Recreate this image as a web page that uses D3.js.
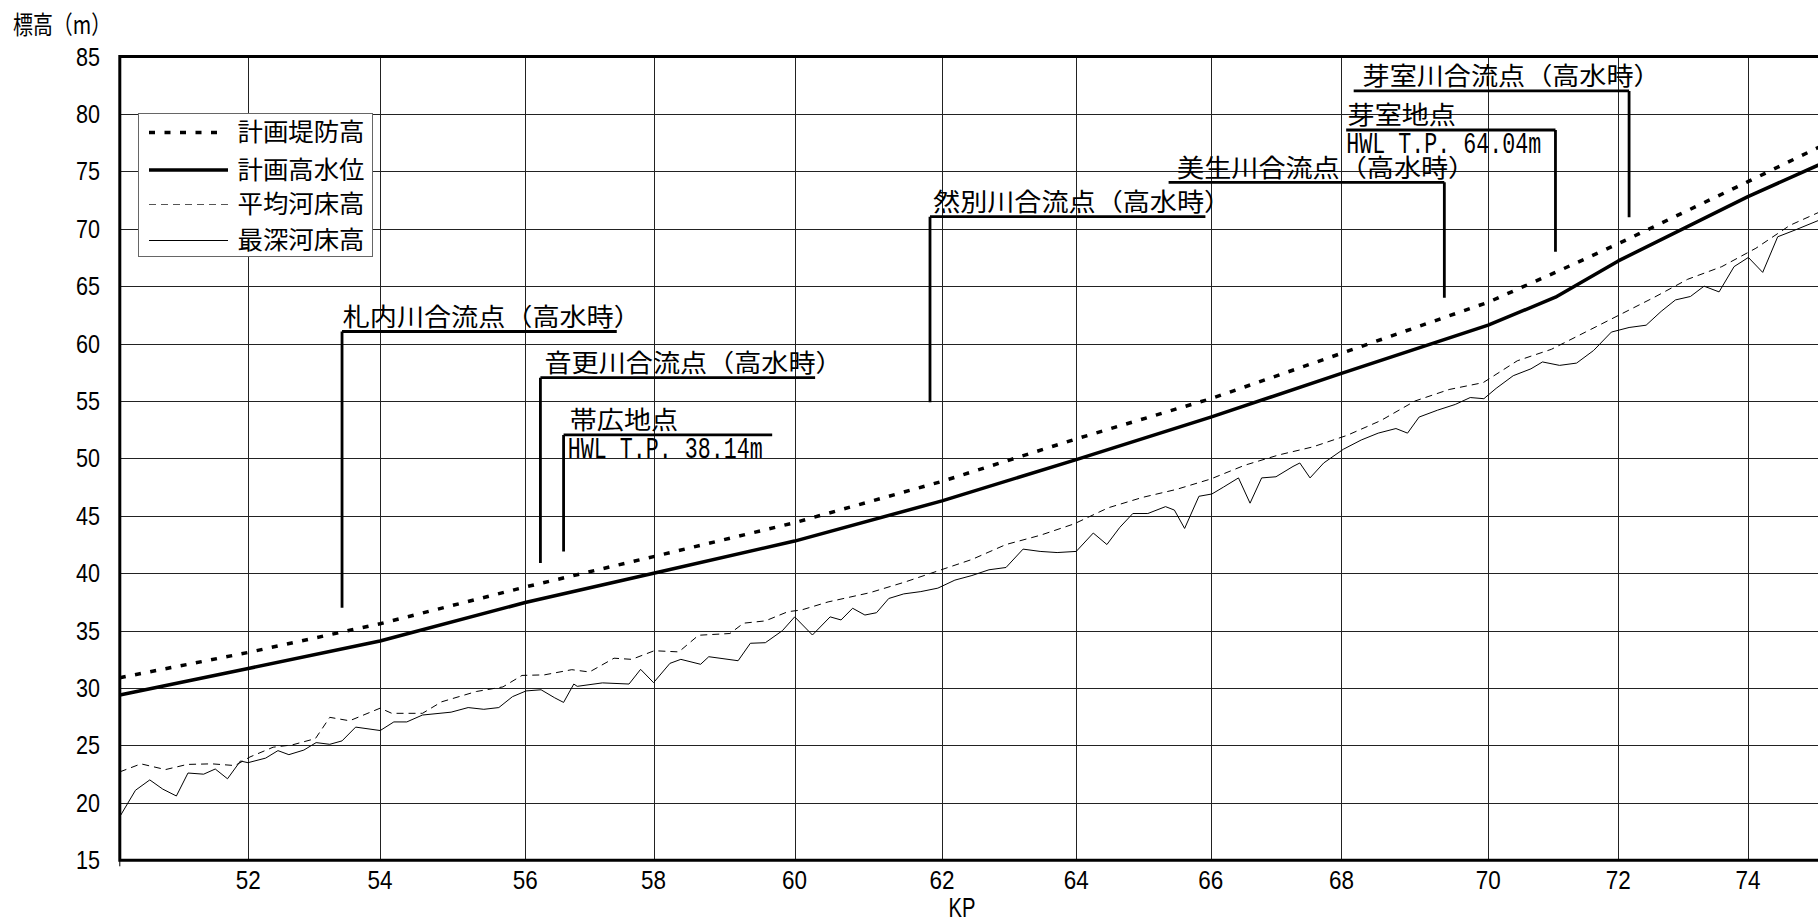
<!DOCTYPE html>
<html><head><meta charset="utf-8">
<script src="https://cdn.jsdelivr.net/npm/d3@7"></script>
<style>body{margin:0;background:#fff;overflow:hidden}</style>
</head><body>
<svg id="chart" width="1818" height="921"></svg>
<script>
// ---------- data ----------
// KP label markers and their chainage (km measured along the river from the left edge of the chart)
const kpLabels   = [52, 54, 56, 58, 60, 62, 64, 66, 68, 70, 72, 74];
const kpChainage = [1.884, 3.817, 5.947, 7.830, 9.899, 12.061, 14.030, 16.004, 17.921, 20.073, 21.982, 23.883];
const yTicks = [15, 20, 25, 30, 35, 40, 45, 50, 55, 60, 65, 70, 75, 80, 85];
const seriesNames = ["計画堤防高", "計画高水位", "平均河床高", "最深河床高"];

// 計画堤防高
const leveeC = [0, 1.884, 3.817, 5.947, 7.830, 9.899, 12.061, 14.030, 16.004, 17.921, 20.073, 21.06, 21.982, 23.883, 25.2];
const leveeV = [30.9, 33.1, 35.6, 38.8, 41.45, 44.4, 48.0, 51.7, 55.2, 59.15, 63.6, 66.2, 68.7, 74.1, 77.9];
// 計画高水位
const hwlC = [0, 1.884, 3.817, 5.947, 7.830, 9.899, 12.061, 14.030, 16.004, 17.921, 20.073, 21.06, 21.982, 23.883, 25.2];
const hwlV = [29.4, 31.7, 34.1, 37.45, 40.0, 42.8, 46.3, 49.9, 53.6, 57.4, 61.6, 64.04, 67.2, 72.8, 76.3];
// 平均河床高
const meanBedC = [0, 0.31, 0.67, 0.99, 1.35, 1.69, 1.91, 2.25, 2.53, 2.87, 3.08, 3.37, 3.82, 3.99, 4.44, 4.72, 5.23, 5.62, 5.90, 6.23, 6.63, 6.89, 7.25, 7.51, 7.84, 8.20, 8.49, 8.95, 9.15, 9.47, 9.80, 10.00, 10.39,
  11.0, 11.5, 12.0, 12.5, 13.0, 13.5, 14.0, 14.5, 15.0, 15.5, 16.0, 16.5, 17.0, 17.5, 18.0, 18.5, 19.0, 19.5, 20.0, 20.5, 21.0, 21.5, 22.0, 22.5, 23.0, 23.5, 24.0, 24.5, 24.95];
const meanBedV = [22.7, 23.4, 22.9, 23.35, 23.4, 23.25, 24.0, 24.85, 25.05, 25.6, 27.45, 27.15, 28.25, 27.8, 27.8, 28.8, 29.7, 30.1, 31.1, 31.15, 31.6, 31.4, 32.6, 32.5, 33.25, 33.15, 34.6, 34.75, 35.65, 35.85, 36.65, 36.8, 37.5,
  38.3, 39.2, 40.2, 41.2, 42.5, 43.3, 44.3, 45.7, 46.6, 47.3, 48.2, 49.4, 50.3, 51.0, 52.0, 53.3, 55.0, 56.0, 56.6, 58.5, 59.5, 61.0, 62.5, 64.0, 65.6, 66.7, 68.3, 70.3, 71.5];
// 最深河床高
const deepBedC = [0, 0.23, 0.44, 0.63, 0.83, 1.0, 1.23, 1.40, 1.58, 1.77, 1.88, 2.14, 2.32, 2.48, 2.70, 2.88, 3.08, 3.26, 3.46, 3.82, 4.02, 4.21, 4.44, 4.86, 5.11, 5.34, 5.56, 5.76, 5.96, 6.18, 6.38, 6.51, 6.66, 6.71, 7.08, 7.47, 7.64, 7.83, 8.07, 8.23, 8.52, 8.64, 9.07, 9.25, 9.47, 9.72, 9.90, 10.16, 10.42, 10.58, 10.75, 10.93, 11.10, 11.28,
  11.5, 11.75, 12.0, 12.25, 12.5, 12.75, 13.0, 13.25, 13.5, 13.75, 14.03, 14.28, 14.48, 14.67, 14.86, 15.08, 15.34, 15.47, 15.62, 15.83,
  16.02, 16.19, 16.41, 16.58, 16.75, 16.96, 17.21, 17.31, 17.46, 17.66, 17.95, 18.21, 18.46, 18.72, 18.89, 19.06, 19.33, 19.59, 19.81, 20.01,
  20.19, 20.44, 20.7, 20.87, 21.12, 21.37, 21.62, 21.88, 22.14, 22.39, 22.61, 22.82, 23.04, 23.24, 23.46, 23.68, 23.89, 24.1, 24.32, 24.58, 24.95];
const deepBedV = [18.8, 21.1, 22.0, 21.2, 20.6, 22.6, 22.5, 22.95, 22.1, 23.65, 23.5, 23.9, 24.55, 24.2, 24.6, 25.25, 25.1, 25.4, 26.6, 26.3, 27.05, 27.05, 27.65, 27.9, 28.3, 28.15, 28.3, 29.25, 29.75, 29.85, 29.15, 28.75, 30.35, 30.15, 30.45, 30.35, 31.63, 30.47, 32.15, 32.5, 32.07, 32.73, 32.38, 33.9, 33.95, 35.0, 36.2, 34.62, 36.2, 35.93, 36.95, 36.36, 36.56, 37.8,
  38.2, 38.4, 38.7, 39.4, 39.8, 40.3, 40.5, 42.1, 41.9, 41.8, 41.9, 43.5, 42.5, 44.0, 45.2, 45.2, 45.8, 45.5, 43.9, 46.7,
  46.9, 47.5, 48.3, 46.1, 48.3, 48.4, 49.3, 49.6, 48.3, 49.6, 50.8, 51.6, 52.2, 52.6, 52.2, 53.6, 54.2, 54.7, 55.3, 55.2,
  56.1, 57.2, 57.8, 58.4, 58.1, 58.3, 59.4, 61.0, 61.4, 61.6, 62.8, 63.8, 64.1, 65.0, 64.5, 66.7, 67.5, 66.2, 69.3, 69.9, 70.8];

// annotation call-outs: label above the leader, optional sub-label below it,
// leader from lineFrom..lineTo (chainage) at elevation `level`, pointer dropping to elevation `tip`
const annotations = [
  {label: "札内川合流点（高水時）", sub: null, lineFrom: 3.26, lineTo: 7.29, pointer: 3.26, level: 61.05, tip: 37.0, textAt: 3.27},
  {label: "音更川合流点（高水時）", sub: null, lineFrom: 6.17, lineTo: 10.20, pointer: 6.17, level: 57.03, tip: 40.9, textAt: 6.23},
  {label: "帯広地点", sub: "HWL T.P. 38.14m", lineFrom: 6.51, lineTo: 9.57, pointer: 6.51, level: 52.04, tip: 41.9, textAt: 6.60, subAt: 6.57},
  {label: "然別川合流点（高水時）", sub: null, lineFrom: 11.885, lineTo: 15.925, pointer: 11.885, level: 71.05, tip: 54.9, textAt: 11.93},
  {label: "美生川合流点（高水時）", sub: null, lineFrom: 15.385, lineTo: 19.43, pointer: 19.43, level: 74.04, tip: 64.0, textAt: 15.51},
  {label: "芽室地点", sub: "HWL T.P. 64.04m", lineFrom: 17.99, lineTo: 21.06, pointer: 21.06, level: 78.6, tip: 68.0, textAt: 18.01, subAt: 17.99},
  {label: "芽室川合流点（高水時）", sub: null, lineFrom: 18.10, lineTo: 22.14, pointer: 22.14, level: 82.0, tip: 71.0, textAt: 18.23}
];

// ---------- layout ----------
const plot = {left: 119.8, top: 56.5, bottom: 860.3, pxPerKm: 68.17, maxC: 25.2};
const CJK = "'Noto Sans CJK JP','Noto Sans CJK SC',sans-serif";
const NUM = "'Liberation Sans',Arial,sans-serif";

const svg = d3.select("#chart");
const x = d3.scaleLinear().domain([0, plot.maxC]).range([plot.left, plot.left + plot.maxC * plot.pxPerKm]);
const y = d3.scaleLinear().domain([15, 85]).range([plot.bottom, plot.top]);
const xR = x(plot.maxC);

// fixed-pitch text widths (full-width vs half-width characters)
function pitchLength(s, full, half) {
  let w = 0;
  for (const ch of String(s)) w += (ch.codePointAt(0) > 0xff) ? full : half;
  return w;
}

// grid
const grid = svg.append("g").attr("shape-rendering", "crispEdges");
grid.selectAll("line.h").data(yTicks.filter(v => v > 15 && v < 85)).join("line")
  .attr("x1", plot.left).attr("x2", xR).attr("y1", d => Math.round(y(d)) + 0.5).attr("y2", d => Math.round(y(d)) + 0.5)
  .attr("stroke", "#222").attr("stroke-width", 1);
grid.selectAll("line.v").data(kpChainage).join("line")
  .attr("x1", d => Math.round(x(d)) + 0.5).attr("x2", d => Math.round(x(d)) + 0.5)
  .attr("y1", plot.top).attr("y2", plot.bottom)
  .attr("stroke", "#222").attr("stroke-width", 1);

// y tick labels (narrow, fixed-pitch digits)
svg.append("g").selectAll("text").data(yTicks).join("text")
  .attr("x", 100).attr("y", d => y(d) + 9)
  .attr("text-anchor", "end").attr("font-family", NUM).attr("font-size", 25).attr("fill", "#000")
  .attr("textLength", d => pitchLength(d, 24, 12)).attr("lengthAdjust", "spacingAndGlyphs")
  .text(d => d);
// x tick labels
svg.append("g").selectAll("text").data(kpChainage).join("text")
  .attr("x", d => x(d)).attr("y", 888.5)
  .attr("text-anchor", "middle").attr("font-family", NUM).attr("font-size", 25.5).attr("fill", "#000")
  .attr("textLength", (d, i) => pitchLength(kpLabels[i], 25, 12.5)).attr("lengthAdjust", "spacingAndGlyphs")
  .text((d, i) => kpLabels[i]);
// axis titles
svg.append("text").attr("x", 962).attr("y", 916.5).attr("text-anchor", "middle")
  .attr("font-family", NUM).attr("font-size", 27)
  .attr("textLength", 27).attr("lengthAdjust", "spacingAndGlyphs").text("KP");
svg.append("text").attr("x", 13).attr("y", 34)
  .attr("font-family", CJK).attr("font-size", 25)
  .attr("textLength", pitchLength("標高（m）", 21.8, 10.9)).attr("lengthAdjust", "spacingAndGlyphs")
  .text("標高（m）");

// legend
const styles = [
  {w: 3.5, dash: "6,9.5", color: "#000", lx2: 221},
  {w: 3.5, dash: null, color: "#000", lx2: 228},
  {w: 1, dash: "7,5", color: "#555", lx2: 230},
  {w: 1, dash: null, color: "#000", lx2: 228}
];
const lg = svg.append("g");
lg.append("rect").attr("x", 138.5).attr("y", 113.5).attr("width", 234).attr("height", 143)
  .attr("fill", "#fff").attr("stroke", "#666").attr("stroke-width", 1);
const legendRows = [132.5, 170, 204.5, 240.5];
seriesNames.forEach((name, i) => {
  lg.append("line").attr("x1", 149).attr("x2", styles[i].lx2).attr("y1", legendRows[i]).attr("y2", legendRows[i])
    .attr("stroke", styles[i].color).attr("stroke-width", styles[i].w)
    .attr("stroke-dasharray", styles[i].dash);
  lg.append("text").attr("x", 237.5).attr("y", legendRows[i] + 8.5)
    .attr("font-family", CJK).attr("font-size", 24.5)
    .attr("textLength", pitchLength(name, 25.4, 12.7)).attr("lengthAdjust", "spacingAndGlyphs")
    .text(name);
});

// annotations
const an = svg.append("g");
annotations.forEach(a => {
  const ly = y(a.level);
  an.append("path")
    .attr("d", `M${x(a.lineFrom)},${ly}H${x(a.lineTo)}M${x(a.pointer)},${ly}V${y(a.tip)}`)
    .attr("fill", "none").attr("stroke", "#000").attr("stroke-width", 2.8);
  an.append("text").attr("x", x(a.textAt)).attr("y", ly - 5.5)
    .attr("font-family", CJK).attr("font-size", 24.5)
    .attr("textLength", pitchLength(a.label, 27.1, 13)).attr("lengthAdjust", "spacingAndGlyphs")
    .text(a.label);
  if (a.sub) {
    an.append("text").attr("x", x(a.subAt)).attr("y", ly + 23.5)
      .attr("font-family", "'Liberation Mono',monospace").attr("font-size", 30)
      .attr("textLength", pitchLength(a.sub, 26, 13)).attr("lengthAdjust", "spacingAndGlyphs")
      .text(a.sub);
  }
});

// series
const line = d3.line().x(d => x(d[0])).y(d => y(d[1]));
const zipC = (c, v) => c.map((d, i) => [d, v[i]]);
const seriesData = [zipC(leveeC, leveeV), zipC(hwlC, hwlV), zipC(meanBedC, meanBedV), zipC(deepBedC, deepBedV)];
svg.append("clipPath").attr("id", "clip").append("rect")
  .attr("x", plot.left - 4).attr("y", plot.top).attr("width", xR - plot.left + 4).attr("height", plot.bottom - plot.top);
const sg = svg.append("g").attr("clip-path", "url(#clip)");
[3, 2, 1, 0].forEach(i => {
  sg.append("path").datum(seriesData[i]).attr("d", line)
    .attr("fill", "none").attr("stroke", i >= 2 ? "#000" : styles[i].color)
    .attr("stroke-width", styles[i].w).attr("stroke-dasharray", styles[i].dash)
    .attr("stroke-linejoin", "round");
});

// frame: left, top and bottom borders
svg.append("path")
  .attr("d", `M${xR},${plot.top}H${plot.left}V${plot.bottom}H${xR}`)
  .attr("fill", "none").attr("stroke", "#000").attr("stroke-width", 3);
svg.append("line").attr("x1", plot.left).attr("x2", plot.left).attr("y1", plot.bottom).attr("y2", plot.bottom + 6)
  .attr("stroke", "#000").attr("stroke-width", 1);
</script>
</body></html>
